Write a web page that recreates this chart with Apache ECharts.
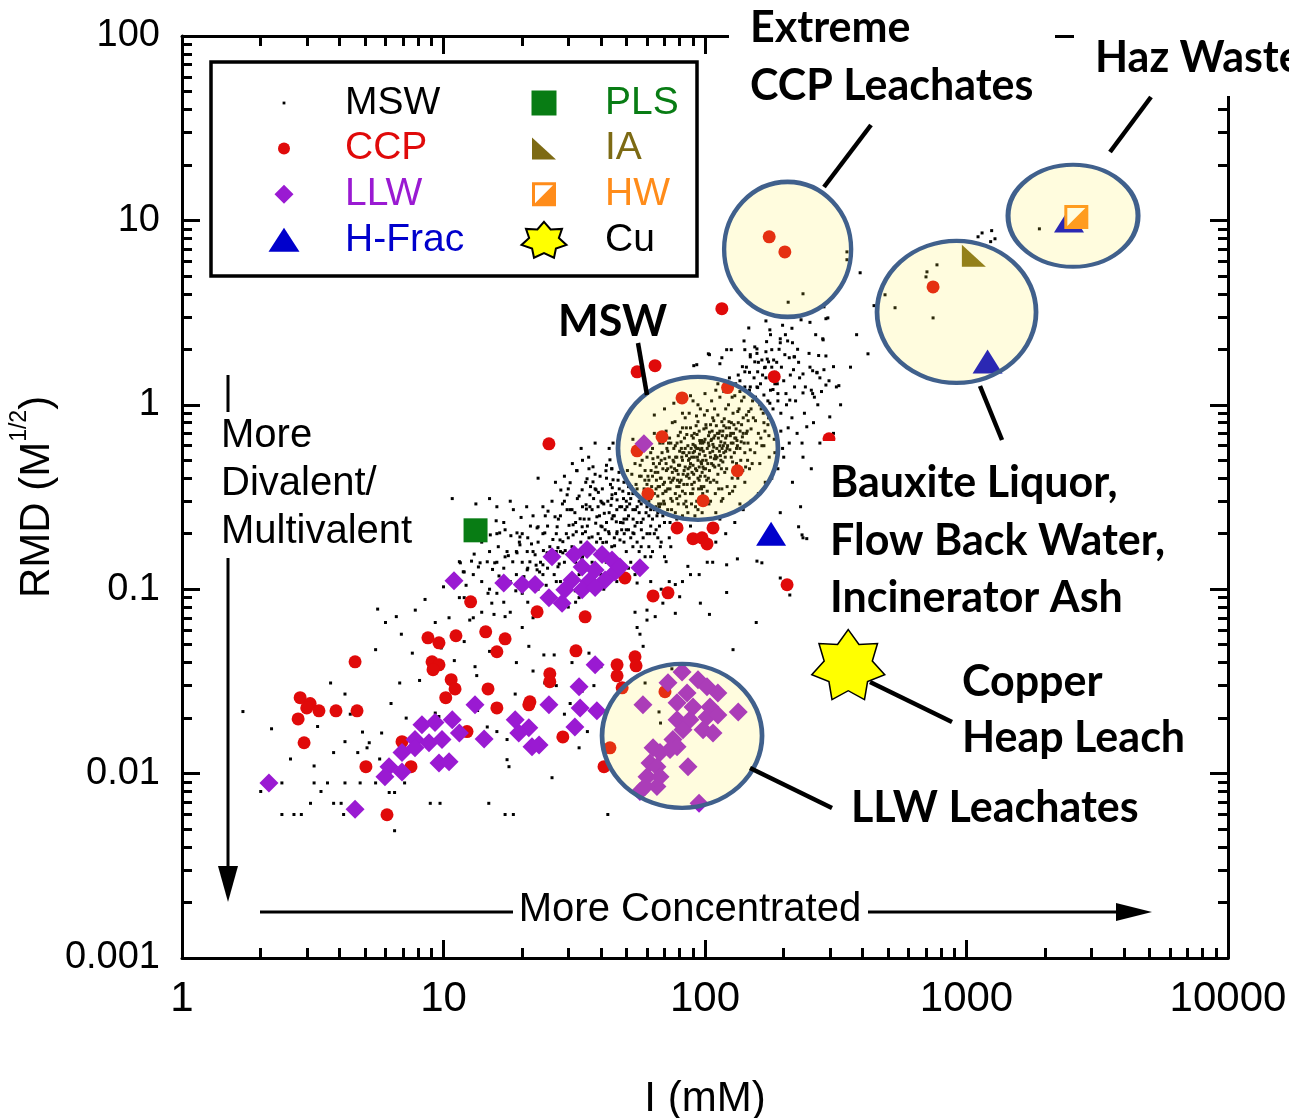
<!DOCTYPE html>
<html><head><meta charset="utf-8">
<script src="https://cdn.jsdelivr.net/npm/echarts@6/dist/echarts.min.js"></script>
<style>html,body{margin:0;padding:0;background:#fff}#c{width:1289px;height:1118px}</style>
</head><body><div id="c"></div>
<script>
// ---------- tick values / labels ----------
const xTickValues = [1, 10, 100, 1000, 10000];
const xTickLabels = ['1', '10', '100', '1000', '10000'];
const xMinorTicks = [2,3,4,5,6,7,8,9,20,30,40,50,60,70,80,90,200,300,400,500,600,700,800,900,2000,3000,4000,5000,6000,7000,8000,9000];
const yTickValues = [0.001, 0.01, 0.1, 1, 10, 100];
const yTickLabels = ['0.001', '0.01', '0.1', '1', '10', '100'];
const yMinorTicks = [0.002,0.003,0.004,0.005,0.006,0.007,0.008,0.009,0.02,0.03,0.04,0.05,0.06,0.07,0.08,0.09,0.2,0.3,0.4,0.5,0.6,0.7,0.8,0.9,2,3,4,5,6,7,8,9,20,30,40,50,60,70,80,90];

// ---------- series data: [I (mM), RMD (M^1/2)] ----------
const mswLow = [
[1.71,0.0217],[2.41,0.0089],[2.0,0.008],[2.41,0.006],[2.68,0.006],[2.86,0.006],[3.2,0.011],[3.2,0.0089],[3.6,0.0089],[3.1,0.0069],[3.7,0.031],[4.2,0.027],[3.4,0.008],[3.8,0.0069],[4.06,0.0069],[4.2,0.0089],[4.8,0.0089],[5.5,0.0089],[4.15,0.006],[4.9,0.0168],[4.7,0.013],[3.8,0.013],[4.2,0.0149],[5.1,0.0138],[6.3,0.024],[5.7,0.012],[5.2,0.0147],[5.8,0.0166],[6.5,0.0049],[6.2,0.0079],[6.5,0.0079],[7.1,0.0089],[8.9,0.0069],[9.7,0.0069],[14.9,0.0069],[17.2,0.006],[18.5,0.006],[42.5,0.006],
[5.6,0.078],[6.0,0.066],[6.6,0.071],[8.5,0.088],[7.8,0.077],[9.3,0.066],[10.5,0.07],[12.6,0.068],[15.3,0.084],[15.6,0.073],[14.3,0.062],[17.2,0.071],[20,0.062],[21.2,0.049],[24.2,0.044],[26.5,0.044],[5.5,0.047],[6.8,0.031],[8.1,0.032],[11,0.041],[13.2,0.038],[13.4,0.034],[18.8,0.027],[9.3,0.0213],[9.6,0.0204],[14.7,0.0179],[16,0.0169],[17.5,0.0153],[17.5,0.0119],[17.8,0.0109],[33,0.0138],[35.5,0.0169],[29,0.021],[24.4,0.031],[30.5,0.024],[33.9,0.028],[37.6,0.03],[11.5,0.141],[12,0.124],[12.8,0.142],[10,0.103],[11.5,0.09],
[2.2,0.0175],[2.6,0.012],[3.3,0.018],[4.4,0.021],[7.6,0.045],[8.8,0.055],[6.9,0.057],[9.8,0.048],[12,0.052],[15,0.046],[19,0.04],[22,0.036],[27,0.03],[31,0.04],[36,0.045],[40,0.038],[11,0.028],[13.5,0.022],[7.2,0.02],[26,0.0095],
[59,0.031],[66.7,0.0216],[67.6,0.0188],[74.7,0.037]
];
const mswTail = [
[43.3,0.503],[41.8,0.439],[44.5,0.392],[37.3,0.382],[35.4,0.397],[36.3,0.325],[44.1,0.325],[40.4,0.294],[46.1,0.305],[35.1,0.287],[36.3,0.28],[50.3,0.28],[33.3,0.241],[38.6,0.247],[44.1,0.241],[40.4,0.218],[48.6,0.229],[46.1,0.205],[31.3,0.2235],[33.9,0.218],[29.7,0.27],[28.6,0.181],[31.3,0.197],[37.0,0.192],[40.7,0.179],[47.3,0.185],[53.0,0.202],[37.3,0.461],[32.4,0.439],[27.2,0.218],[22.8,0.215],[24.4,0.202],[19.1,0.202],[19.6,0.192],[17.2,0.21],[16.4,0.202],[15.1,0.197],[20.9,0.16],[22.4,0.1537],[24.9,0.1575],[27.4,0.168],[19.1,0.1575],[17.2,0.1498],[15.7,0.139],[14.7,0.1408],[13.8,0.139],[11.6,0.139],[11.9,0.1243],[20.9,0.1274],[22.8,0.1274],[24.0,0.1356],[27.4,0.1323],[21.4,0.1408],[18.4,0.1408],[28.6,0.1575],[16.2,0.17],[19.6,0.174],[23.0,0.218],[26.7,0.247],[29.7,0.325],[30.5,0.378],[31.8,0.26],[33.9,0.346],[38.3,0.346],
[33.6,0.58],[38,0.62],[32.3,0.44],[29,0.41],[23,0.4],[15,0.31],[10.8,0.31],[13.3,0.29],[18.5,0.27],[20.8,0.28],[44.5,0.62],[43,0.58],[42,0.47],[44,0.45],
[12,0.09],[13,0.12],[14,0.075],[15,0.1],[16,0.14],[17,0.085],[18,0.11],[19,0.16],[20,0.095],[21,0.13],[22,0.07],[23,0.18],[24,0.12],[25,0.09],[26,0.15],[27,0.2],[28,0.11],[29,0.14],[30,0.08],[31,0.17],[32,0.23],[33,0.12],[34,0.15],[35,0.1],[36,0.19],[37,0.27],[38,0.13],[39,0.16],[40,0.22],[13,0.07],[14,0.18],[16,0.095],[17,0.23],[18,0.075],[19,0.12],[20,0.2],[21,0.085],[22,0.16],[23,0.1],[24,0.28],[25,0.13],[27,0.11],[28,0.25],[29,0.09],[30,0.19],[31,0.12],[32,0.085],[33,0.32],[34,0.2],[35,0.16],[36,0.11],[37,0.14],[38,0.35],[39,0.2],[40,0.12],[22,0.25],[26,0.3],[30,0.35],[34,0.28],[38,0.42],[18,0.3],[24,0.2],[28,0.16],[32,0.14],[36,0.24],[20,0.14],[33,0.09],[39,0.28],[15,0.16],[29,0.3],[35,0.38],[31,0.27],[27,0.16],[25,0.22],[21,0.19],[17,0.13],[16,0.2],[14,0.11],[11,0.12],[12.5,0.2],[40,0.3],[36,0.45],[34,0.5],[16,0.28],
[35.5,0.22],[33.5,0.18],[31.5,0.15],[29.5,0.2],[27.5,0.24],[25.5,0.17],[23.5,0.14],[21.5,0.22],[19.5,0.18],[17.5,0.16],[37.5,0.31],[39.5,0.25],[28.5,0.29],[26.5,0.12],[24.5,0.25],[30.5,0.27],[32.5,0.31],[34.5,0.24],[36.5,0.36],[38.5,0.18],
[12.2,0.105],[13.6,0.132],[14.8,0.095],[16.3,0.118],[17.7,0.152],[18.9,0.098],[20.3,0.117],[21.7,0.176],[23.3,0.124],[24.7,0.105],[26.2,0.186],[27.7,0.137],[29.2,0.162],[30.8,0.113],[32.2,0.205],[33.8,0.146],[35.2,0.272],[36.8,0.165],[38.2,0.228],[39.8,0.188],[41.2,0.258],[42.8,0.205],[44.2,0.355],[45.8,0.232],[47.2,0.28],[48.8,0.31],[50.2,0.24],[52.2,0.36],[54.2,0.27],[56.2,0.41],
[13.1,0.155],[15.4,0.128],[17.1,0.105],[19.8,0.245],[22.6,0.135],[25.1,0.265],[27.9,0.185],[30.2,0.222],[31.9,0.098],[34.9,0.205],[37.1,0.118],[39.1,0.335],[41.9,0.14],[43.7,0.285],[45.1,0.172],[46.9,0.43],[49.1,0.2],[51.1,0.33],[53.1,0.24],[57.1,0.21],[58.9,0.39],[28.1,0.345],[24.1,0.162],[21.1,0.105],[18.1,0.195],[15.9,0.235],[35.9,0.52],[39.7,0.41],[26.8,0.38],[31.1,0.48]
];
const mswCore = [
[41,0.16],[42,0.23],[43,0.12],[44,0.31],[45,0.19],[46,0.27],[47,0.14],[48,0.21],[49,0.38],[41,0.29],[43,0.2],[44,0.17],[46,0.11],[47,0.35],[49,0.24],[50,0.16],[42,0.18],[45,0.25],[48,0.13],[50,0.3],[44,0.45],[47,0.52],[41,0.1],[43,0.26],[46,0.2],[48,0.28],[50,0.21],[45,0.15],[49,0.18],[42,0.4],
[51,0.25],[52,0.19],[53,0.33],[54,0.22],[55,0.28],[56,0.16],[57,0.41],[58,0.24],[59,0.31],[60,0.2],[51,0.36],[52,0.14],[53,0.27],[54,0.48],[55,0.18],[56,0.3],[57,0.23],[58,0.58],[59,0.15],[60,0.37],[51,0.21],[53,0.17],[55,0.35],[56,0.26],[58,0.19],[60,0.28],[52,0.31],[54,0.12],[57,0.29],[59,0.44],[53,0.65],[55,0.23],[57,0.17],[60,0.52],[51,0.13],
[61,0.3],[62,0.22],[63,0.41],[64,0.27],[65,0.35],[66,0.19],[67,0.48],[68,0.29],[69,0.25],[70,0.38],[61,0.17],[62,0.55],[63,0.24],[64,0.33],[65,0.21],[66,0.43],[67,0.28],[68,0.18],[69,0.62],[70,0.23],[61,0.39],[62,0.31],[63,0.16],[64,0.7],[65,0.46],[66,0.26],[67,0.36],[68,0.5],[69,0.33],[70,0.29],[62,0.27],[64,0.2],[66,0.32],[68,0.4],[70,0.15],[63,0.58],[65,0.28],[67,0.22],[69,0.45],[61,0.25],
[71,0.34],[72,0.27],[73,0.52],[74,0.31],[75,0.43],[76,0.22],[77,0.6],[78,0.36],[79,0.29],[80,0.47],[81,0.39],[82,0.25],[83,0.55],[84,0.33],[85,0.41],[71,0.72],[72,0.45],[73,0.19],[74,0.38],[75,0.3],[76,0.58],[77,0.26],[78,0.44],[79,0.68],[80,0.32],[81,0.21],[82,0.5],[83,0.37],[84,0.85],[85,0.28],[72,0.35],[74,0.62],[76,0.4],[78,0.24],[80,0.56],[82,0.34],[84,0.46],[71,0.48],[73,0.4],[75,0.8],[77,0.33],[79,0.42],[81,0.63],[83,0.29],[85,0.53],[74,0.17],[78,0.31],[82,0.75],[76,0.49],[80,0.38],
[86,0.42],[87,0.55],[88,0.33],[89,0.68],[90,0.47],[91,0.38],[92,0.59],[93,0.3],[94,0.5],[95,0.72],[96,0.41],[97,0.35],[98,0.62],[99,0.45],[100,0.53],[86,0.26],[87,0.9],[88,0.48],[89,0.37],[90,0.61],[91,0.52],[92,0.28],[93,0.44],[94,0.81],[95,0.39],[96,0.57],[97,0.48],[98,0.33],[99,0.74],[100,0.41],[87,0.4],[89,0.52],[91,0.7],[93,0.58],[95,0.46],[97,0.64],[99,0.36],[86,0.6],[88,0.75],[90,0.35],[92,0.45],[94,0.4],[96,0.95],[98,0.5],[100,0.65],[88,0.22],[92,0.19],[96,0.3],[90,1.05],[94,0.27],
[101,0.5],[103,0.62],[104,0.44],[105,0.78],[107,0.56],[108,0.39],[109,0.68],[110,0.51],[112,0.88],[113,0.47],[114,0.6],[116,0.35],[117,0.72],[118,0.55],[120,0.66],[102,0.93],[103,0.4],[105,0.52],[106,0.65],[108,0.82],[109,0.46],[111,0.58],[112,0.42],[114,1.1],[115,0.63],[117,0.49],[118,0.77],[119,0.43],[120,0.95],[102,0.34],[104,0.71],[106,0.48],[108,0.59],[110,1.2],[113,0.7],[115,0.5],[117,0.31],[119,0.62],[101,0.75],[107,0.85],[111,0.38],[116,0.81],[105,0.3],[110,0.26],[114,0.24],
[122,0.6],[124,0.75],[126,0.52],[128,0.9],[130,0.66],[132,0.48],[134,0.8],[136,0.58],[138,1.05],[140,0.7],[142,0.55],[144,0.88],[146,0.62],[148,1.2],[150,0.74],[121,0.45],[123,1.0],[125,0.68],[127,0.4],[129,0.78],[131,1.3],[133,0.6],[135,0.95],[137,0.5],[139,0.67],[141,1.1],[143,0.46],[145,0.72],[147,0.92],[149,0.57],[124,0.33],[130,0.36],[136,0.29],[142,0.38],[148,0.45],[126,1.25],[134,1.45],[144,1.6],[128,0.62],[140,0.85],
[153,0.85],[156,1.1],[160,0.7],[163,1.3],[167,0.9],[170,1.6],[174,0.78],[178,1.2],[182,0.95],[186,1.5],[190,1.05],[195,0.72],[200,1.35],[205,1.0],[210,1.8],[215,0.85],[220,1.25],[155,0.55],[162,0.48],[168,0.6],[176,0.52],[184,0.65],[192,2.0],[198,0.58],[208,0.75],[158,1.9],[172,2.2],[188,1.7],[203,2.4],[218,1.55],
[62.5,0.36],[64.5,0.43],[66.5,0.29],[68.5,0.55],[70.5,0.34],[72.5,0.62],[74.5,0.27],[76.5,0.45],[78.5,0.39],[80.5,0.71],[82.5,0.42],[84.5,0.3],[86.5,0.5],[88.5,0.58],[90.5,0.42],[92.5,0.77],[94.5,0.35],[96.5,0.49],[98.5,0.56],[100.5,0.45],[103.5,0.6],[106.5,0.72],[109.5,0.53],[112.5,0.66],[115.5,0.45],[118.5,0.84],[121.5,0.58],[125.5,0.7],[129.5,0.55],[133.5,0.92],
[63.5,0.48],[65.5,0.25],[67.5,0.4],[69.5,0.3],[71.5,0.58],[73.5,0.35],[75.5,0.5],[77.5,0.44],[79.5,0.36],[81.5,0.52],[83.5,0.66],[85.5,0.37],[87.5,0.46],[89.5,0.33],[91.5,0.6],[93.5,0.52],[95.5,0.64],[97.5,0.43],[99.5,0.88],[101.5,0.39],[104.5,0.55],[107.5,0.47],[110.5,0.77],[113.5,0.56],[116.5,0.68],[119.5,0.52],[123.5,0.81],[127.5,0.49],[131.5,0.74],[137.5,0.63],
[60.5,0.41],[66,0.52],[72,0.56],[78,0.52],[84,0.58],[90,0.55],[96,0.62],[102,0.58],[108,0.66],[114,0.72],[120,0.56],[126,0.62],[132,0.58],[138,0.78],[144,0.7],[150,0.95],[156,0.82],[162,1.0],[168,0.8],[174,1.05],
[61.5,0.2],[67.5,0.17],[73.5,0.23],[79.5,0.21],[85.5,0.24],[91.5,0.25],[97.5,0.26],[103.5,0.29],[109.5,0.33],[115.5,0.3],[121.5,0.36],[127.5,0.34],[133.5,0.4],[139.5,0.44],[145.5,0.5],[151.5,0.48],[157.5,0.62],[163.5,0.66],[169.5,0.72],[175.5,0.68],
[64,0.88],[70,0.95],[76,1.02],[82,0.9],[88,1.12],[94,1.0],[100,1.15],[106,1.05],[112,1.3],[118,1.18],[124,1.4],[130,1.12],[136,1.35],[142,1.25],[148,1.5],[154,1.4],[160,1.7],[166,1.45],[180,1.6],[185,1.3],
[52.5,0.42],[54.5,0.37],[56.5,0.47],[58.5,0.35],[50.5,0.44],[48.5,0.34],[46.5,0.39],[44.5,0.25],[42.5,0.3],[40.5,0.35],[55.5,0.55],[57.5,0.5],[53.5,0.2],[51.5,0.29],[49.5,0.27],[47.5,0.23],[45.5,0.33],[43.5,0.37],[41.5,0.21],[59.5,0.26],
[61.2,0.33],[63.2,0.51],[65.2,0.39],[67.2,0.62],[69.2,0.37],[71.2,0.44],[73.2,0.66],[75.2,0.39],[77.2,0.52],[79.2,0.47],[81.2,0.58],[83.2,0.44],[85.2,0.69],[87.2,0.51],[89.2,0.43],[91.2,0.56],[93.2,0.69],[95.2,0.54],[97.2,0.58],[99.2,0.63],[102.5,0.48],[105.5,0.64],[108.5,0.51],[111.5,0.7],[114.5,0.53],[117.5,0.6],[120.5,0.75],[124.5,0.57],[128.5,0.7],[132.5,0.64],
[62.2,0.44],[66.2,0.36],[70.2,0.51],[74.2,0.46],[78.2,0.62],[82.2,0.55],[86.2,0.45],[90.2,0.66],[94.2,0.58],[98.2,0.46],[103.2,0.68],[107.2,0.61],[111.2,0.52],[116.2,0.58],[121.2,0.68],[126.2,0.8],[131.2,0.66],[136.2,0.72],[141.2,0.62],[146.2,0.82],[76.8,0.81],[84.8,0.75],[92.8,0.87],[100.8,0.78],[108.8,0.95],[68.8,0.7],[88.8,0.29],[96.8,0.36],[104.8,0.38],[112.8,0.35]
];
const mswHigh = [
[275,0.62],[237,0.52],[300,0.86],[268,1.5],[290,1.28],[211,1.06],[245,0.76],[194,2.17],[155,2.06],[175,1.71],[149,1.87],[219,1.82],[216,0.38],[232,0.28],[330,0.36],[194,0.26],[237,0.19],
[237,4.0],[290,2.93],[233,2.89],[171,2.85],[147,2.61],[177,2.55],[141,2.22],[194,2.28],[207,2.22],[216,2.17],[282,2.28],[121,1.99],[126,1.99],[103,1.89],[142,1.99],[158,2.01],[171,1.94],[180,1.99],[149,1.82],[155,1.71],[165,1.75],[173,1.77],[202,1.87],[220,1.82],[290,1.84],[310,1.61],[258,1.53],[268,1.49],[90.6,1.63],[114,1.67],[139,1.61],[142,1.51],[159,1.51],[169,1.59],[237,1.47],[275,1.4],[318,1.25],[279,1.18],[258,1.15],[237,1.16],[159,1.24],[149,1.25],[136,1.18],[127,1.1],[182,1.21],[190,1.15],[168,1.13],[104,1.87],[93,1.65],[116,1.8],
[102,0.14],[107,0.14],[133,0.146],[158,0.142],[165,0.139],[121,0.1356],[88,0.12],[95,0.12],[82,0.11],[73,0.11],[121,0.096],[96,0.084],[104,0.073],[77,0.074],[64.5,0.071],[56.4,0.057],[58,0.049],[128,0.047],[157,0.066],[194,0.115],[211,0.093],[228,0.218],[235,0.197],[245,0.188],[55,0.062],[60,0.068],[54,0.075],[60,0.077],[69,0.084],[80,0.091],[68,0.1],[77,0.106],[55,0.108],[62,0.11],[86,0.133],[71,0.141],[62,0.15],
[190,0.45],[200,0.52],[210,0.62],[225,0.7],[240,0.9],[255,1.2],[260,0.8],[270,1.0],[180,0.4],[170,0.38],[160,0.33],[150,0.3],[140,0.27],[130,0.23],[120,0.2],[110,0.18],[230,1.4],[250,1.9],[265,2.4],[215,2.6],
[152,1.05],[158,1.25],[164,0.95],[171,1.4],[177,1.02],[183,1.75],[189,1.3],[196,1.6],[204,1.15],[212,1.45],[222,1.05],[228,1.7],[242,1.25],[252,1.6],[262,1.1],[272,1.85],[285,1.55],[298,1.35],[178,2.4],[198,2.7],[226,2.0],[252,2.8],[285,3.4],[208,3.6],[175,0.85],[195,0.9],[165,0.6],[185,0.55],[235,0.62],[255,0.45],
[1900,9.0],[1107,8.15],[1147,8.55],[1248,8.8],[1285,7.95],[1237,7.67],[706,5.26],[771,5.74],[700,4.94],[745,2.96],[533,3.36],[488,3.95],[443,3.45],[349,6.75],[349,6.12],[392,5.2],[295,2.96],[283,2.25],[420,1.89],[325,1.27],[330,1.0],[360,1.6],[380,2.4],[310,0.7],[350,0.55]
];
const ccpPoints = [
[176,8.15],[202,6.75],[745,4.36],[116,3.32],[55.0,1.51],[64.4,1.63],[184,1.42],[122,1.24],[81.7,1.09],[68.5,0.671],[55.0,0.563],[25.3,0.614],[133,0.439],[60.5,0.329],[98.3,0.302],[298,0.654],
[78.2,0.215],[107.3,0.215],[90.0,0.188],[97.4,0.19],[101.8,0.176],[206,0.1057],[63.3,0.092],[72.2,0.0956],[49.4,0.115],[12.7,0.0854],[22.8,0.0754],[34.8,0.0708],[8.72,0.0545],[9.61,0.0512],[11.16,0.0559],[14.5,0.0587],[17.2,0.0538],[16.0,0.0458],[32.1,0.0463],[4.59,0.0404],[9.04,0.0404],[9.61,0.0389],[9.12,0.0366],[25.5,0.0348],[25.5,0.0315],[46.1,0.0389],[46.1,0.0339],[54.0,0.043],[54.5,0.0384],[10.7,0.0323],[11.07,0.0288],[14.8,0.0288],[10.2,0.0258],[21.4,0.0245],[21.2,0.0236],[16.0,0.0227],[2.83,0.0258],[3.09,0.024],[3.0,0.0227],[3.34,0.0219],[3.88,0.0219],[4.67,0.0219],[2.78,0.0198],[2.93,0.0147],[6.94,0.0149],[12.3,0.0169],[28.6,0.0158],[43.3,0.0138],[48.2,0.0292],[70.3,0.0278],[5.05,0.0109],[7.51,0.0109],[41.1,0.0109],[6.08,0.00598]
];
const llwPoints = [
[2.15,0.0089],[4.59,0.0064],[10.97,0.111],[26.0,0.15],[17.0,0.108],[20.0,0.106],[22.4,0.106],[25.3,0.09],[28.4,0.084],[13.2,0.0236],[38.0,0.0389],[33.0,0.0296],[25.3,0.0236],[33.3,0.0227],[38.6,0.0219],[18.8,0.0196],[21.2,0.0177],[19.4,0.0166],[14.3,0.0154],[31.8,0.0179],[21.8,0.014],[23.2,0.0143],[56.4,0.1306],
[8.27,0.0184],[9.28,0.0189],[10.8,0.0196],[11.5,0.0166],[7.78,0.0153],[8.80,0.0147],[9.87,0.0153],[6.94,0.013],[7.78,0.0138],[6.19,0.0109],[5.97,0.0096],[6.94,0.0102],[9.61,0.0114],[10.5,0.0116],
[35.4,0.164],[31.6,0.154],[40.4,0.154],[44.1,0.144],[33.9,0.132],[38.0,0.127],[45.3,0.124],[31.0,0.112],[36.0,0.11],[41.5,0.112],[29.1,0.0993],[33.9,0.0993],[38.0,0.102],[47.3,0.132],[58.4,0.614],
[81.7,0.0356],[72.2,0.0311],[94.0,0.0323],[101.8,0.0296],[112,0.0274],[85.4,0.0274],[57.9,0.0236],[134,0.0216],[78.2,0.0242],[90.0,0.023],[104.5,0.023],[78.2,0.0196],[87.6,0.0196],[101.8,0.0203],[112,0.0208],[98.3,0.0173],[107.3,0.0166],[82.4,0.0173],[75.4,0.0153],[78.2,0.014],[73.5,0.0135],[63.3,0.0138],[67.3,0.013],[61.6,0.0114],[65.5,0.0109],[86.1,0.0109],[60.0,0.0096],[67.3,0.0096],[65.5,0.0085],[59.0,0.0085],[56.4,0.008],[94.9,0.0069]
];
const hfracPoints = [[179,0.2],[1204,1.717],[2466,10.0]];
const plsPoints = [[13.26,0.2086]];
const iaPoints = [[1067,6.44]];
const hwPoints = [[2630,10.43]];
const cuPoints = [[353,0.039]];
// highlighted groups (circle centres): MSW, LLW, Extreme CCP, Bauxite/Flow back/Incinerator, Haz waste
const highlightCenters = [[94.0,0.581],[81.7,0.01603],[207,6.97],[916,3.19],[2555,10.59]];

// ---------- styles ----------
const circleSizes = [[160,143],[160,144],[127,135],[159,142],[130,102]];
const NARROW = "'Liberation Sans Narrow','Arial Narrow','Liberation Sans',sans-serif";
const SANS = "'Liberation Sans',Arial,sans-serif";
const COL = {MSW:'#000000', CCP:'#e00a0a', LLW:'#9a1ad2', HF:'#0000cc', PLS:'#087c14', IA:'#7d6a14', HW:'#ff8c1a', Cu:'#ffff00'};

function starPath(cx, cy, R, r, sx, sy) {
  let d = '';
  for (let k = 0; k < 14; k++) {
    const a = -Math.PI / 2 + k * Math.PI / 7;
    const rad = k % 2 === 0 ? R : r;
    d += (k === 0 ? 'M' : 'L') + (cx + sx * rad * Math.cos(a)).toFixed(2) + ',' + (cy + sy * rad * Math.sin(a)).toFixed(2);
  }
  return d + 'Z';
}
const STAR = 'path://' + starPath(0, 0, 10, 6.6, 1, 1);
const IA_SYM = 'path://M0,0L0,10L10,10Z';
const HW_SYM = 'path://M0,0H24V24H0Z M3,3V21H21V3Z M21,3V21H3Z';
const F = 'path://M0,0M48,36';
const LEG = {
  MSW: F + 'M22.6,16.6h2.8v2.8h-2.8z',
  CCP: F + 'M18,18a6,6 0 1,0 12,0a6,6 0 1,0 -12,0z',
  LLW: F + 'M24,8.5L33.5,18L24,27.5L14.5,18Z',
  HF:  F + 'M24,6L39.5,30H8.5Z',
  PLS: F + 'M11.5,5.5h25v25h-25z',
  IA:  F + 'M12,7L12,29L36,29Z',
  HW:  F + 'M12,6H36V30H12Z M15,9V27H33V9Z M33,9V27H15Z',
  Cu:  F + starPath(24, 18.9, 18.9, 12.5, 1.22, 1)
};

function fmt(values, labels) {
  return v => {
    const i = values.findIndex(t => Math.abs(Math.log10(t) - Math.log10(v)) < 1e-6);
    return i >= 0 ? labels[i] : '';
  };
}
const lineBlk = {color:'#000', width:3};
function mkAxis(kind, pos, minor, extra) {
  const isX = kind === 'x';
  return Object.assign({
    type:'log', logBase:10, gridIndex:0, position:pos,
    min: isX ? 1 : 0.001, max: isX ? 10000 : 100,
    splitLine:{show:false},
    axisLine:{show:!minor, onZero:false, lineStyle:lineBlk},
    axisTick:{show:true, inside:true, length: minor ? 10 : 18, lineStyle:lineBlk,
      customValues: minor ? (isX ? xMinorTicks : yMinorTicks) : (isX ? xTickValues : yTickValues)},
    axisLabel:{show:false},
    minorTick:{show:false}
  }, extra || {});
}

const xAxes = [
  mkAxis('x','bottom',false,{
    axisLabel:{show:true, customValues:xTickValues, formatter:fmt(xTickValues,xTickLabels), fontSize:42, fontFamily:NARROW, color:'#000', margin:20},
    name:'I (mM)', nameLocation:'middle', nameGap:120, nameMoveOverlap:false,
    nameTextStyle:{fontSize:42, fontFamily:NARROW, color:'#000'}
  }),
  mkAxis('x','bottom',true),
  mkAxis('x','top',false),
  mkAxis('x','top',true)
];
const yAxes = [
  mkAxis('y','left',false,{
    axisLabel:{show:true, customValues:yTickValues, formatter:fmt(yTickValues,yTickLabels), fontSize:38, fontFamily:SANS, color:'#000', margin:22},
    name:'{a|RMD (M}{s|1/2}{a|)}', nameLocation:'middle', nameGap:124, nameMoveOverlap:false,
    nameTextStyle:{rich:{
      a:{fontSize:42, fontFamily:NARROW, color:'#000', lineHeight:50, verticalAlign:'bottom'},
      s:{fontSize:23, fontFamily:NARROW, color:'#000', lineHeight:50, verticalAlign:'top'}
    }}
  }),
  mkAxis('y','left',true),
  mkAxis('y','right',false),
  mkAxis('y','right',true)
];

const legendText = {fontSize:39, fontFamily:SANS, lineHeight:40};
const legendBase = {orient:'vertical', top:83, padding:0, itemGap:5.6, itemWidth:112, itemHeight:36, z:50, selectedMode:false, textStyle:legendText};

// ---------- annotations ----------
const BOLD = "bold 43px Lato";
const REG = '40px ' + SANS;
function box(x, y, w, h) { return {type:'rect', z:40, silent:true, shape:{x, y, width:w, height:h}, style:{fill:'#fff', stroke:null}}; }
function txt(t, x, y, font, align) { return {type:'text', z:42, silent:true, style:{text:t, x, y, font:font || BOLD, fill:'#000', align:align || 'left', verticalAlign:'middle'}}; }
function seg(x1, y1, x2, y2, w, z) { return {type:'line', z:z || 41, silent:true, shape:{x1, y1, x2, y2}, style:{stroke:'#000', lineWidth:w || 4.5}}; }
function tri(pts) { return {type:'polygon', z:39, silent:true, shape:{points:pts}, style:{fill:'#000'}}; }

const graphics = [
  {type:'rect', z:45, silent:true, shape:{x:211, y:62, width:486, height:214}, style:{fill:'#fff', stroke:'#000', lineWidth:3.5}},
  seg(228, 375, 228, 872, 3, 38), tri([[228,902],[218,866],[238,866]]),
  seg(260, 912, 1120, 912, 3, 38), tri([[1152,912],[1116,903],[1116,921]]),
  box(214, 412, 208, 146),
  txt('More', 221, 436, REG), txt('Divalent/', 221, 484, REG), txt('Multivalent', 221, 532, REG),
  box(513, 890, 355, 42),
  txt('More Concentrated', 690, 910, REG, 'center'),
  seg(638, 343, 647, 395), seg(824, 187, 871, 125), seg(1110, 152, 1151, 97),
  seg(980, 386, 1002, 440), seg(870, 682, 952, 722), seg(750, 768, 832, 808),
  box(729, 0, 326, 112), txt('Extreme', 750, 28), txt('CCP Leachates', 750, 86),
  box(1074, 0, 215, 96), txt('Haz Waste', 1095, 58),
  box(554, 302, 114, 40), txt('MSW', 558, 322),
  box(822, 441, 360, 180), txt('Bauxite Liquor,', 830, 483), txt('Flow Back Water,', 830, 541), txt('Incinerator Ash', 830, 598),
  box(952, 655, 245, 108), txt('Copper', 962, 682), txt('Heap Leach', 962, 738),
  box(842, 785, 305, 46), txt('LLW Leachates', 851, 808)
];

const option = {
  backgroundColor:'#ffffff',
  animation:false,
  grid:{left:182, right:61, top:36, bottom:160, containLabel:false, outerBoundsMode:'none'},
  xAxis:xAxes,
  yAxis:yAxes,
  legend:[
    Object.assign({}, legendBase, {left:260, data:[
      {name:'MSW', icon:LEG.MSW, textStyle:{color:COL.MSW}},
      {name:'CCP', icon:LEG.CCP, textStyle:{color:COL.CCP}},
      {name:'LLW', icon:LEG.LLW, textStyle:{color:COL.LLW}},
      {name:'H-Frac', icon:LEG.HF, textStyle:{color:COL.HF}}
    ]}),
    Object.assign({}, legendBase, {left:519, data:[
      {name:'PLS', icon:LEG.PLS, textStyle:{color:COL.PLS}},
      {name:'IA', icon:LEG.IA, textStyle:{color:COL.IA}},
      {name:'HW', icon:LEG.HW, textStyle:{color:COL.HW}},
      {name:'Cu', icon:LEG.Cu, textStyle:{color:'#000'}}
    ]})
  ],
  series:[
    {name:'MSW', type:'scatter', data:mswLow.concat(mswTail, mswCore, mswHigh), symbol:'rect', symbolSize:3, itemStyle:{color:COL.MSW, opacity:1}, z:2, silent:true},
    {name:'CCP', type:'scatter', data:ccpPoints, symbol:'circle', symbolSize:13, itemStyle:{color:COL.CCP, opacity:1}, z:3, silent:true},
    {name:'LLW', type:'scatter', data:llwPoints, symbol:'diamond', symbolSize:19, itemStyle:{color:COL.LLW, opacity:1}, z:4, silent:true},
    {name:'H-Frac', type:'scatter', data:hfracPoints, symbol:'triangle', symbolSize:[30,24], itemStyle:{color:COL.HF, opacity:1}, z:5, silent:true},
    {name:'PLS', type:'scatter', data:plsPoints, symbol:'rect', symbolSize:24, itemStyle:{color:COL.PLS, opacity:1}, z:5, silent:true},
    {name:'IA', type:'scatter', data:iaPoints, symbol:IA_SYM, symbolSize:[24,22], itemStyle:{color:COL.IA, opacity:1}, z:5, silent:true},
    {name:'HW', type:'scatter', data:hwPoints, symbol:HW_SYM, symbolSize:24, itemStyle:{color:COL.HW, opacity:1}, z:7, silent:true},
    {name:'HW-bg', type:'scatter', data:hwPoints, symbol:'rect', symbolSize:22, itemStyle:{color:'#ffffff', opacity:1}, z:6, silent:true},
    {name:'groups', type:'scatter', data:highlightCenters, symbol:'circle',
      symbolSize:(v, p) => circleSizes[p.dataIndex],
      itemStyle:{color:'rgba(255,240,60,0.17)', borderColor:'#40608c', borderWidth:4.5, opacity:1}, z:8, silent:true, clip:false},
    {name:'Cu', type:'scatter', data:cuPoints, symbol:STAR, symbolSize:[73,70], itemStyle:{color:COL.Cu, borderColor:'#000', borderWidth:1.5, opacity:1}, z:9, silent:true}
  ],
  graphic:{elements:graphics}
};
const chart = echarts.init(document.getElementById('c'), null, {renderer:'canvas'});
chart.setOption(option);
</script>
</body></html>
